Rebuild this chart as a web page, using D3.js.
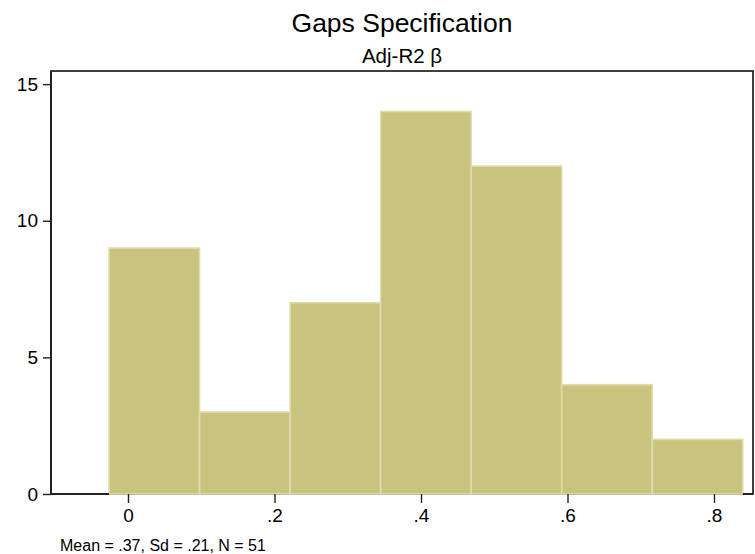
<!DOCTYPE html>
<html>
<head>
<meta charset="utf-8">
<script src="https://cdn.jsdelivr.net/npm/d3@7"></script>
<style>
  html, body { margin: 0; padding: 0; background: #fff; }
  svg { display: block; font-family: "Liberation Sans", Arial, sans-serif; }
</style>
</head>
<body>
<svg id="chart" width="755" height="554"></svg>
<script>
// ---- data ----
const binEdges = [-0.0259, 0.0977, 0.2213, 0.3449, 0.4685, 0.5921, 0.7157, 0.8393];
const counts = [9, 3, 7, 14, 12, 4, 2];
const xTicks = [0, 0.2, 0.4, 0.6, 0.8];
const xTickLabels = ["0", ".2", ".4", ".6", ".8"];
const yTicks = [0, 5, 10, 15];
const yTickLabels = ["0", "5", "10", "15"];
const titleText = "Gaps Specification";
const subtitleText = "Adj-R2 \u03b2";
const noteText = "Mean = .37, Sd = .21, N = 51";

// ---- layout ----
const svg = d3.select("#chart");
const pL = 51, pR = 753, pT = 71, pB = 494;

const x = d3.scaleLinear().domain([-0.10512, 0.85324]).range([pL, pR]);
const y = d3.scaleLinear().domain([0, 15.48]).range([pB, pT]);

// plot region frame
svg.append("rect")
  .attr("x", pL).attr("y", pT)
  .attr("width", pR - pL).attr("height", pB - pT)
  .attr("fill", "none").attr("stroke", "#111").attr("stroke-width", 1.6);

// bars
const bars = counts.map((c, i) => ({ x0: binEdges[i], x1: binEdges[i + 1], c }));
svg.append("g").selectAll("rect").data(bars).join("rect")
  .attr("x", d => x(d.x0))
  .attr("y", d => y(d.c))
  .attr("width", d => x(d.x1) - x(d.x0))
  .attr("height", d => y(0) - y(d.c))
  .attr("fill", "#c9c380")
  .attr("stroke", "#e0dcaa")
  .attr("stroke-width", 1.6);

// y axis
const yAxis = d3.axisLeft(y).tickValues(yTicks)
  .tickFormat((d, i) => yTickLabels[i]).tickSize(8).tickPadding(5);
const gy = svg.append("g").attr("transform", `translate(${pL},0)`).call(yAxis);
gy.select(".domain").attr("stroke", "#222").attr("stroke-width", 2)
  .attr("d", `M0,${pB}V${pT}`);
gy.selectAll(".tick line").attr("stroke", "#222").attr("stroke-width", 1.4);
gy.selectAll(".tick text").attr("font-size", 19).attr("fill", "#000")
  .attr("font-family", "'Liberation Sans', Arial, sans-serif");

// x axis
const xAxis = d3.axisBottom(x).tickValues(xTicks)
  .tickFormat((d, i) => xTickLabels[i]).tickSize(9).tickPadding(6);
const gx = svg.append("g").attr("transform", `translate(0,${pB})`).call(xAxis);
gx.select(".domain").remove();
gx.insert("path", ":first-child")
  .attr("d", `M${pL},0H${x(binEdges[0])}M${x(binEdges[binEdges.length-1])},0H${pR}`)
  .attr("stroke", "#222").attr("stroke-width", 2).attr("fill", "none");
gx.selectAll(".tick line").attr("stroke", "#222").attr("stroke-width", 1.4);
gx.selectAll(".tick text").attr("font-size", 19).attr("fill", "#000")
  .attr("font-family", "'Liberation Sans', Arial, sans-serif");

// titles
const cx = (pL + pR) / 2;
svg.append("text").attr("x", cx).attr("y", 31.5).attr("text-anchor", "middle")
  .attr("font-size", 26.5).attr("fill", "#000").text(titleText);
svg.append("text").attr("x", cx).attr("y", 63).attr("text-anchor", "middle")
  .attr("font-size", 20.5).attr("fill", "#000").text(subtitleText);

// note
svg.append("text").attr("x", 60).attr("y", 551).attr("text-anchor", "start")
  .attr("font-size", 16).attr("fill", "#000").text(noteText);
</script>
</body>
</html>
